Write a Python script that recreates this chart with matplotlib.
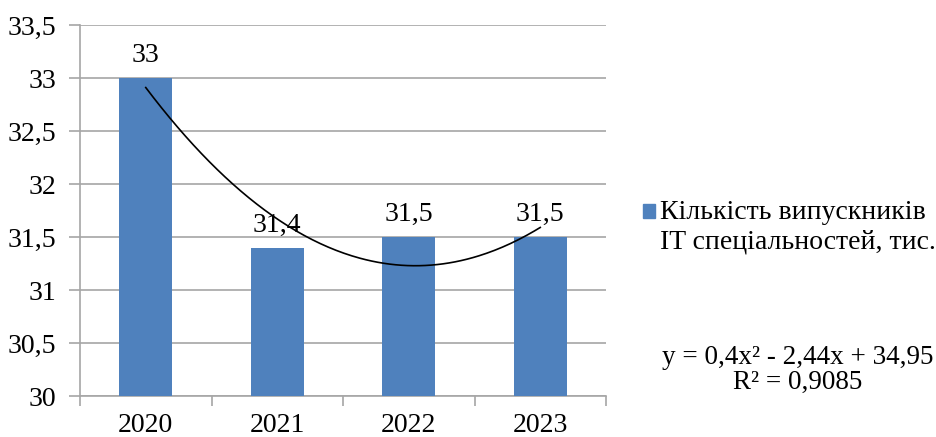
import matplotlib
matplotlib.use("Agg")
import matplotlib.pyplot as plt
import numpy as np

years = ["2020", "2021", "2022", "2023"]
graduates = [33, 31.4, 31.5, 31.5]
value_labels = ["33", "31,4", "31,5", "31,5"]
trend_coef = [0.4, -2.44, 34.95]  # y = a*x^2 + b*x + c, x = 1..4
legend_label = "Кількість випускників\nIT спеціальностей, тис."
equation_text = "y = 0,4x² - 2,44x + 34,95\nR² = 0,9085"
y_ticks = [30, 30.5, 31, 31.5, 32, 32.5, 33, 33.5]

plt.rcParams["font.family"] = ["Liberation Serif", "DejaVu Serif"]
bar_color = "#4F81BD"
grid_color = "#A6A6A6"
fs = 20

fig = plt.figure(figsize=(9.36, 4.37), dpi=100)
ax = fig.add_axes([80 / 936, 1 - 396 / 437, (606 - 80) / 936, (396 - 25) / 437])

x = np.arange(len(years))
ax.bar(x, graduates, width=0.4, color=bar_color, zorder=3)
for xi, v, lab in zip(x, graduates, value_labels):
    ax.annotate(lab, (xi, v), xytext=(0, 7), textcoords="offset points",
                ha="center", va="bottom", fontsize=fs)

# polynomial trend line over the bar centres
xs = np.linspace(0, len(years) - 1, 200)
t = xs + 1
ys = trend_coef[0] * t**2 + trend_coef[1] * t + trend_coef[2]
ax.plot(xs, ys, color="black", lw=1.2, zorder=4)

ax.set_xlim(-0.5, len(years) - 0.5)
ax.set_ylim(30, 33.5)
ax.set_yticks(y_ticks)
ax.set_yticklabels([f"{v:g}".replace(".", ",") for v in y_ticks], fontsize=fs)
ax.yaxis.grid(True, color=grid_color, lw=1.2, zorder=0)
ax.set_axisbelow(True)

ax.set_xticks(x)
ax.set_xticklabels(years, fontsize=fs)
ax.tick_params(axis="x", length=0, pad=12)
ax.set_xticks(np.arange(-0.5, len(years)), minor=True)
ax.tick_params(axis="x", which="minor", length=7, color=grid_color, width=1.2)
ax.tick_params(axis="y", length=8, color=grid_color, width=1.2, pad=9)

for side in ["top", "right"]:
    ax.spines[side].set_visible(False)
for side in ["left", "bottom"]:
    ax.spines[side].set_color(grid_color)
    ax.spines[side].set_linewidth(1.2)

# legend
fig.patches.append(plt.Rectangle((643 / 936, 1 - 218 / 437), 12 / 936, 14 / 437,
                                 transform=fig.transFigure, color=bar_color))
fig.text(660 / 936, 1 - 200 / 437, legend_label, fontsize=fs, va="top",
         ha="left", linespacing=1.24)

fig.text(798 / 936, 1 - 345 / 437, equation_text, fontsize=19.5, va="top",
         ha="center", multialignment="center", linespacing=0.98)

fig.savefig("out.png", dpi=100)
